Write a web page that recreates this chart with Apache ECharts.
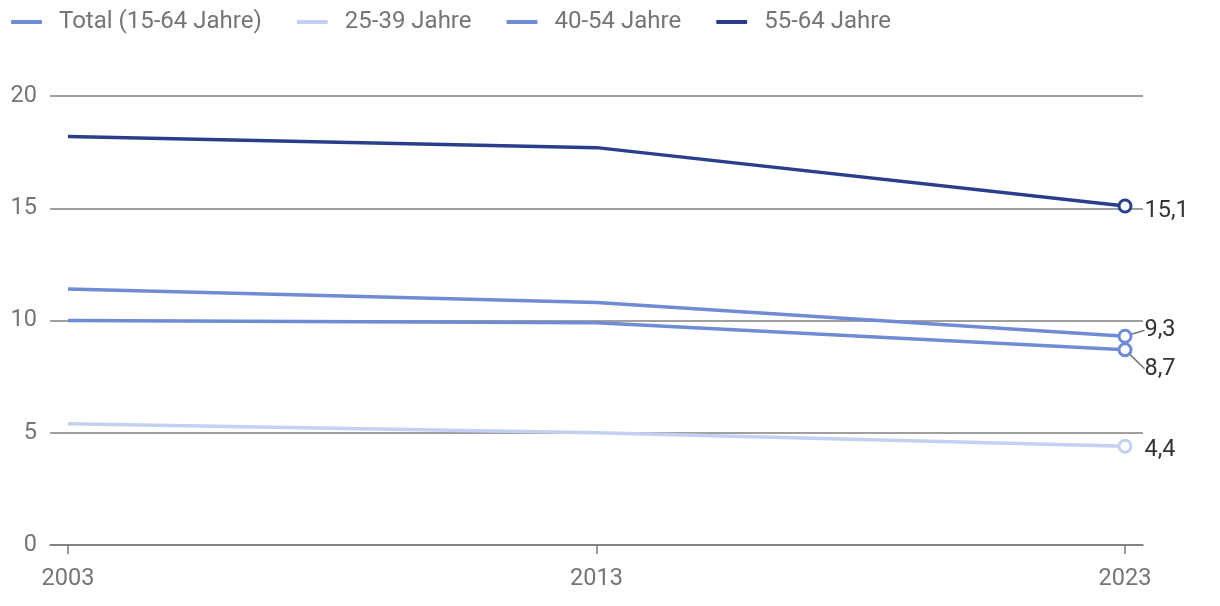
<!DOCTYPE html>
<html>
<head>
<meta charset="utf-8">
<script src="https://cdn.jsdelivr.net/npm/echarts@6/dist/echarts.min.js"></script>
<style>html,body{margin:0;padding:0;background:#fff}#c{width:1220px;height:606px}</style>
</head>
<body>
<div id="c"></div>
<script>
const years = [2003, 2013, 2023];
const seriesNames = ['Total (15-64 Jahre)', '25-39 Jahre', '40-54 Jahre', '55-64 Jahre'];
const total = [10.0, 9.9, 8.7];
const age2539 = [5.4, 5.0, 4.4];
const age4054 = [11.4, 10.8, 9.3];
const age5564 = [18.2, 17.7, 15.1];
const yTicks = [0, 5, 10, 15, 20];

const colors = ['#6f8bd6', '#c3d0f2', '#6f8bd6', '#2b3e8e'];
const values = [total, age2539, age4054, age5564];
const labelShift = [19, 4, -6, 5];
const showLabelLine = [true, false, true, false];

const chart = echarts.init(document.getElementById('c'), null, {renderer: 'canvas'});
const series = values.map((vals, i) => ({
  name: seriesNames[i],
  type: 'line',
  z: i === 1 ? 2 : 3,
  symbol: 'none',
  lineStyle: {width: 3.5, color: colors[i]},
  itemStyle: {color: colors[i]},
  data: vals.map((v, j) => {
    const item = {value: [years[j], v]};
    if (j === vals.length - 1) {
      item.symbol = 'circle';
      item.symbolSize = 12;
      item.itemStyle = {color: '#fff', borderColor: colors[i], borderWidth: 3};
      item.label = {
        show: true, position: 'right', distance: 12,
        formatter: p => String(p.value[1]).replace('.', ','),
        fontFamily: 'Roboto', fontSize: 23.5, color: '#333'
      };
    }
    return item;
  }),
  labelLine: {show: showLabelLine[i], length2: 0, lineStyle: {color: '#777', width: 1.5}},
  labelLayout: {dy: labelShift[i]},
  emphasis: {disabled: true},
  animation: false
}));

chart.setOption({
  animation: false,
  textStyle: {fontFamily: 'Roboto'},
  legend: {
    top: 5, left: 6,
    icon: 'roundRect',
    itemWidth: 31, itemHeight: 4, itemGap: 35,
    textStyle: {fontSize: 24, color: '#757575', fontFamily: 'Roboto', padding: [0, 0, 0, 12]},
    data: seriesNames.map((n, i) => ({name: n, itemStyle: {color: colors[i]}}))
  },
  grid: {left: 50, right: 77, top: 96, bottom: 61},
  xAxis: {
    type: 'value',
    min: 2002.66, max: 2023.34,
    splitLine: {show: false},
    axisLine: {show: true, lineStyle: {color: '#7a7a7a', width: 1.5}},
    axisTick: {show: true, length: 9, customValues: years, lineStyle: {color: '#7a7a7a', width: 1.5}},
    axisLabel: {customValues: years, formatter: v => String(v), fontSize: 23.5, color: '#757575', margin: 22, fontFamily: 'Roboto'}
  },
  yAxis: {
    type: 'value',
    min: 0, max: 20, interval: 5,
    axisLine: {show: false},
    axisTick: {show: false},
    splitLine: {lineStyle: {color: '#808080', width: 1.5}},
    axisLabel: {customValues: yTicks, fontSize: 23.5, color: '#757575', margin: 13, fontFamily: 'Roboto'}
  },
  series: series
});
</script>
</body>
</html>
